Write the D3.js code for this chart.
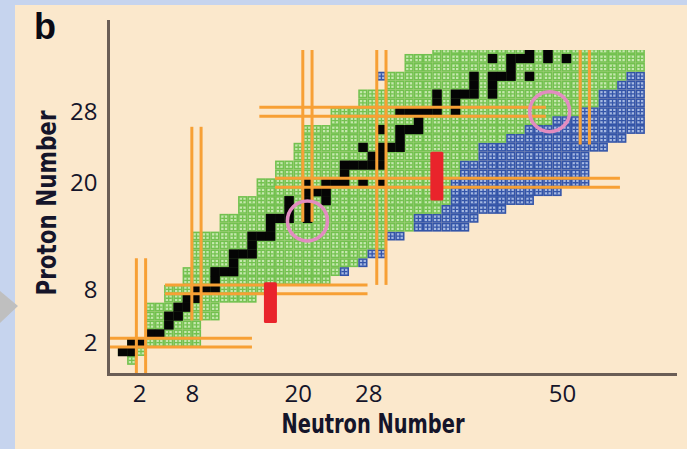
<!DOCTYPE html>
<html>
<head>
<meta charset="utf-8">
<script src="https://cdn.jsdelivr.net/npm/d3@7"></script>
<style>
  html, body { margin: 0; padding: 0; background: #c6d4ee; }
  svg { display: block; }
</style>
</head>
<body>
<svg id="chart" width="687" height="449"></svg>
<script>
// Chart of the light nuclides: one row per proton number Z.
const protonNumbers = [0,1,2,3,4,5,6,7,8,9,10,11,12,13,14,15,16,17,18,19,20,21,22,23,24,25,26,27,28,29,30,31,32,33,34,35];
// first / last neutron number of the known (green) nuclides in each row
const greenFirstN = [1,0,1,3,3,3,3,5,5,7,7,8,8,8,8,11,11,13,13,15,15,17,17,19,19,20,20,23,23,26,26,29,29,31,31,34];
const greenLastN  = [1,2,8,8,8,10,10,14,16,22,23,25,26,28,28,31,31,34,35,35,35,36,36,38,38,41,43,46,49,51,51,53,54,56,56,56];
// newly found (blue) nuclides beyond the green ones; -1 where a row has none
const blueFirstN  = [-1,-1,-1,-1,-1,-1,-1,-1,-1,-1,24,26,27,-1,29,32,32,35,36,36,36,37,37,39,39,42,44,47,50,52,52,54,55,-1,-1,-1];
const blueLastN   = [-1,-1,-1,-1,-1,-1,-1,-1,-1,-1,24,26,28,-1,30,37,38,41,44,47,50,50,50,50,52,54,56,56,56,56,56,56,56,-1,-1,-1];
// isolated new nuclides as [N, Z]
const extraBlueCells = [[28,32]];
// stable nuclides as [Z, N]
const stableNuclides = [
  [1,0],[1,1],[2,1],[2,2],[3,3],[3,4],[4,5],[5,5],[5,6],[6,6],[6,7],[7,7],[7,8],
  [8,8],[8,9],[8,10],[9,10],[10,10],[10,11],[10,12],[11,12],[12,12],[12,13],[12,14],
  [13,14],[14,14],[14,15],[14,16],[15,16],[16,16],[16,17],[16,18],[16,20],[17,18],[17,20],
  [18,18],[18,20],[18,22],[19,20],[19,21],[19,22],[20,20],[20,22],[20,23],[20,24],[20,26],[20,28],
  [21,24],[22,24],[22,25],[22,26],[22,27],[22,28],[23,27],[23,28],[24,26],[24,28],[24,29],[24,30],
  [25,30],[26,28],[26,30],[26,31],[26,32],[27,32],[28,30],[28,31],[28,32],[28,33],[28,34],[28,36],
  [29,34],[29,36],[30,34],[30,36],[30,37],[30,38],[30,40],[31,38],[31,40],[32,38],[32,40],[32,41],
  [32,42],[32,44],[33,42],[34,40],[34,42],[34,43],[34,44],[34,46],[34,48],[35,44],[35,46]
];
// magic numbers and the extent of their double lines
const magicNumbers = [2, 8, 20, 28, 50];
const magicColumnZFrom = [-1.6, 4.5, 15.6, 8.5, 24.3];   // vertical lines (N magic)
const magicColumnZTo   = [11.5, 26.3, 36, 36, 36];
const magicRowNFrom    = [-1.6, 4.6, 16.5, 14.8];        // horizontal lines (Z magic)
const magicRowNTo      = [14.0, 26.5, 53.8, 45.8];
// new shell closures (red bars)
const newMagicN = [16, 34];
const newMagicZFrom = [4.2, 18.0];
const newMagicZTo = [8.8, 23.5];
// regions of special interest (pink rings)
const ringN = [20.0, 46.2];
const ringZ = [15.7, 28.0];
// axis labels
const xTickValues = [2, 8, 20, 28, 50];
const yTickValues = [2, 8, 20, 28];

const svg = d3.select("#chart");
const W = 687, H = 449;

// cell-centre scales
const x = d3.scaleLinear().domain([0, 50]).range([122.5, 584.8]);
const y = d3.scaleLinear().domain([0, 28]).range([360.4, 111.7]);
const cw = x(1) - x(0), ch = y(0) - y(1);
// scale used by the neutron-number labels under the chart
const xLab = d3.scaleLinear().domain([2, 50]).range([139, 562]);

// backdrop
svg.append("rect").attr("width", W).attr("height", H).attr("fill", "#c6d4ee");
svg.append("rect").attr("x", 15).attr("y", 5).attr("width", W - 15).attr("height", H - 5).attr("fill", "#fbe8cc");
svg.append("path").attr("d", "M0,291 L18,306 L0,323 Z").attr("fill", "#bfbfbf");

const defs = svg.append("defs");
defs.append("clipPath").attr("id", "plotClip")
  .append("rect").attr("x", 109).attr("y", 50).attr("width", 536).attr("height", 323);

const plot = svg.append("g").attr("clip-path", "url(#plotClip)");

// build the list of cells
const cells = [];
protonNumbers.forEach((z, i) => {
  for (let n = greenFirstN[i]; n <= greenLastN[i]; n++) cells.push({n, z, kind: "green"});
  if (blueFirstN[i] >= 0) for (let n = blueFirstN[i]; n <= blueLastN[i]; n++) cells.push({n, z, kind: "blue"});
});
extraBlueCells.forEach(([n, z]) => cells.push({n, z, kind: "blue"}));

const palette = {
  green: {edge: "#72c14f", fill: "#c6e8ae"},
  blue:  {edge: "#3354a8", fill: "#a6b9e2"}
};

const cellG = plot.append("g").selectAll("g").data(cells).join("g")
  .attr("transform", d => `translate(${x(d.n) - cw / 2},${y(d.z) - ch / 2})`);
cellG.append("rect").attr("width", cw).attr("height", ch).attr("fill", d => palette[d.kind].edge);
cellG.append("rect").attr("x", 1.6).attr("y", 1.6).attr("width", cw - 3.2).attr("height", ch - 3.2)
  .attr("fill", d => palette[d.kind].fill);
cellG.append("path")
  .attr("d", `M${cw / 2},1.6 V${ch - 1.6} M1.6,${ch / 2} H${cw - 1.6}`)
  .attr("stroke", d => palette[d.kind].edge).attr("stroke-width", 1.3);

// stable nuclides
plot.append("g").selectAll("rect").data(stableNuclides).join("rect")
  .attr("x", d => x(d[1]) - cw / 2).attr("y", d => y(d[0]) - ch / 2)
  .attr("width", cw + 0.3).attr("height", ch + 0.3).attr("fill", "#050505");

// magic-number double lines
const orange = "#f7a035";
const lines = plot.append("g").attr("stroke", orange).attr("stroke-width", 3);
magicNumbers.forEach((m, i) => {
  [-0.5, 0.5].forEach(o => {
    lines.append("line").attr("x1", x(m + o)).attr("x2", x(m + o))
      .attr("y1", y(magicColumnZFrom[i])).attr("y2", y(magicColumnZTo[i]));
  });
  if (i < magicRowNFrom.length) {
    [-0.5, 0.5].forEach(o => {
      lines.append("line").attr("y1", y(m + o)).attr("y2", y(m + o))
        .attr("x1", x(magicRowNFrom[i])).attr("x2", x(magicRowNTo[i]));
    });
  }
});

// new magic numbers
plot.append("g").selectAll("rect").data(newMagicN).join("rect")
  .attr("x", d => x(d) - 6.5).attr("width", 13)
  .attr("y", (d, i) => y(newMagicZTo[i])).attr("height", (d, i) => y(newMagicZFrom[i]) - y(newMagicZTo[i]))
  .attr("rx", 1.5).attr("fill", "#e9242b");

// rings
plot.append("g").selectAll("circle").data(ringN).join("circle")
  .attr("cx", d => x(d)).attr("cy", (d, i) => y(ringZ[i])).attr("r", 20)
  .attr("fill", "none").attr("stroke", "#e28cc0").attr("stroke-width", 3.6);

// axes
const axisColor = "#6a5d55";
const font = "'Open Sans', 'Liberation Sans', sans-serif";
const xAxis = svg.append("g").attr("transform", "translate(0,374.5)")
  .call(d3.axisBottom(xLab).tickValues(xTickValues).tickSize(0).tickPadding(10).tickFormat(d3.format("d")));
xAxis.select(".domain").remove();
svg.append("line").attr("x1", 108).attr("x2", 677).attr("y1", 374.5).attr("y2", 374.5)
  .attr("stroke", axisColor).attr("stroke-width", 3);
const yAxis = svg.append("g").attr("transform", "translate(108.5,0)")
  .call(d3.axisLeft(y).tickValues(yTickValues).tickSize(0).tickPadding(11).tickFormat(d3.format("d")));
yAxis.select(".domain").remove();
svg.append("line").attr("x1", 108.5).attr("x2", 108.5).attr("y1", 20).attr("y2", 376)
  .attr("stroke", axisColor).attr("stroke-width", 3);

svg.selectAll(".tick text").attr("font-family", font).attr("font-size", 24).attr("fill", "#15152a");

svg.append("text").attr("x", 373).attr("y", 433).attr("text-anchor", "middle")
  .attr("font-family", "'Liberation Sans Narrow', 'DejaVu Sans Condensed', sans-serif")
  .attr("font-weight", "bold").attr("font-size", 27).attr("fill", "#15152a")
  .attr("textLength", 183).attr("lengthAdjust", "spacingAndGlyphs").text("Neutron Number");
svg.append("text").attr("transform", "translate(56,203) rotate(-90)").attr("text-anchor", "middle")
  .attr("font-family", "'Liberation Sans Narrow', 'DejaVu Sans Condensed', sans-serif")
  .attr("font-weight", "bold").attr("font-size", 27).attr("fill", "#15152a")
  .attr("textLength", 185).attr("lengthAdjust", "spacingAndGlyphs").text("Proton Number");
svg.append("text").attr("x", 34).attr("y", 39)
  .attr("font-family", "'Liberation Sans', Arial, sans-serif").attr("font-weight", "bold")
  .attr("font-size", 36).attr("fill", "#0a0a14").text("b");
</script>
</body>
</html>
